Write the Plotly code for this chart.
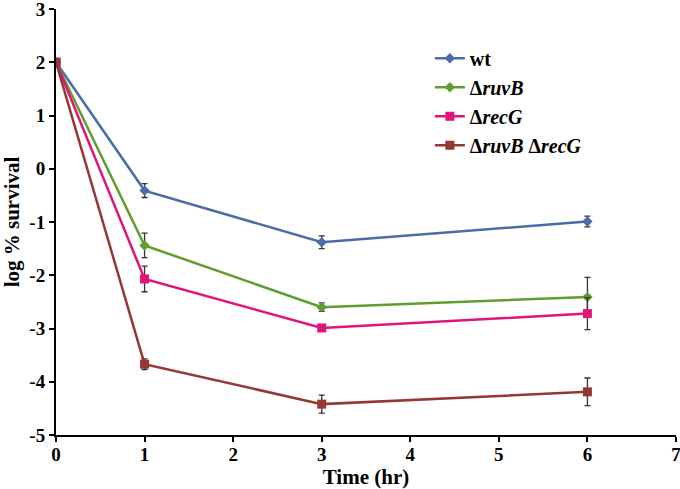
import plotly.graph_objects as go

time_hr = [0, 1, 3, 6]
names = ["wt", "Δ<i>ruvB</i>", "Δ<i>recG</i>", "Δ<i>ruvB</i> Δ<i>recG</i>"]
wt = [2.0, -0.41, -1.38, -0.99]
wt_err = [0.0, 0.13, 0.12, 0.10]
ruvB = [2.0, -1.44, -2.60, -2.41]
ruvB_err = [0.0, 0.23, 0.08, 0.37]
recG = [2.0, -2.07, -2.99, -2.72]
recG_err = [0.0, 0.24, 0.05, 0.30]
ruvB_recG = [2.0, -3.67, -4.42, -4.19]
ruvB_recG_err = [0.0, 0.10, 0.17, 0.26]

x_tickvals = [0, 1, 2, 3, 4, 5, 6, 7]
x_ticktext = ["0", "1", "2", "3", "4", "5", "6", "7"]
y_tickvals = [-5, -4, -3, -2, -1, 0, 1, 2, 3]
y_ticktext = ["-5", "-4", "-3", "-2", "-1", "0", "1", "2", "3"]

series = [
    (names[0], wt, wt_err, "#4A6DA7", "diamond", 8),
    (names[1], ruvB, ruvB_err, "#5E9E2E", "diamond", 8),
    (names[2], recG, recG_err, "#E0157A", "square", 9),
    (names[3], ruvB_recG, ruvB_recG_err, "#953735", "square", 9),
]

fig = go.Figure()
for name, y, err, color, sym, size in series:
    fig.add_trace(go.Scatter(
        x=time_hr, y=y, name=name, mode="lines+markers",
        line=dict(color=color, width=2.5),
        marker=dict(symbol=sym, size=size, color=color),
        error_y=dict(type="data", array=err, visible=True, color="#333333", thickness=1.3, width=3),
    ))

ff = "Liberation Serif, Times New Roman, serif"
axis_common = dict(showgrid=False, zeroline=False, automargin=False,
                   showline=True, linecolor="black", linewidth=2,
                   ticks="outside", ticklen=5, tickwidth=1.5, tickcolor="black",
                   ticklabeloverflow="allow",
                   tickfont=dict(size=19, family=ff, weight="bold", color="black"))
fig.update_layout(
    width=680, height=489,
    margin=dict(l=56, r=4, t=9, b=54),
    paper_bgcolor="white", plot_bgcolor="white",
    font=dict(family=ff, size=16, color="black"),
    showlegend=True,
    legend=dict(x=0.603, y=0.93, xanchor="left", yanchor="top",
                bgcolor="rgba(0,0,0,0)",
                font=dict(size=20, family=ff, weight="bold", color="black"),
                tracegroupgap=0, itemwidth=30),
    xaxis=dict(range=[0, 7], tickvals=x_tickvals, ticktext=x_ticktext,
               ticklabelstandoff=-4,
               title=dict(text="Time (hr)", font=dict(size=21, family=ff, weight="bold")),
               **axis_common),
    yaxis=dict(range=[-5, 3], tickvals=y_tickvals, ticktext=y_ticktext,
               title=dict(text="log % survival", font=dict(size=21, family=ff, weight="bold")),
               **axis_common),
)

fig.write_html("out.html", config={"displayModeBar": False},
               post_script="document.body.style.margin='0';document.body.style.overflow='hidden';")
